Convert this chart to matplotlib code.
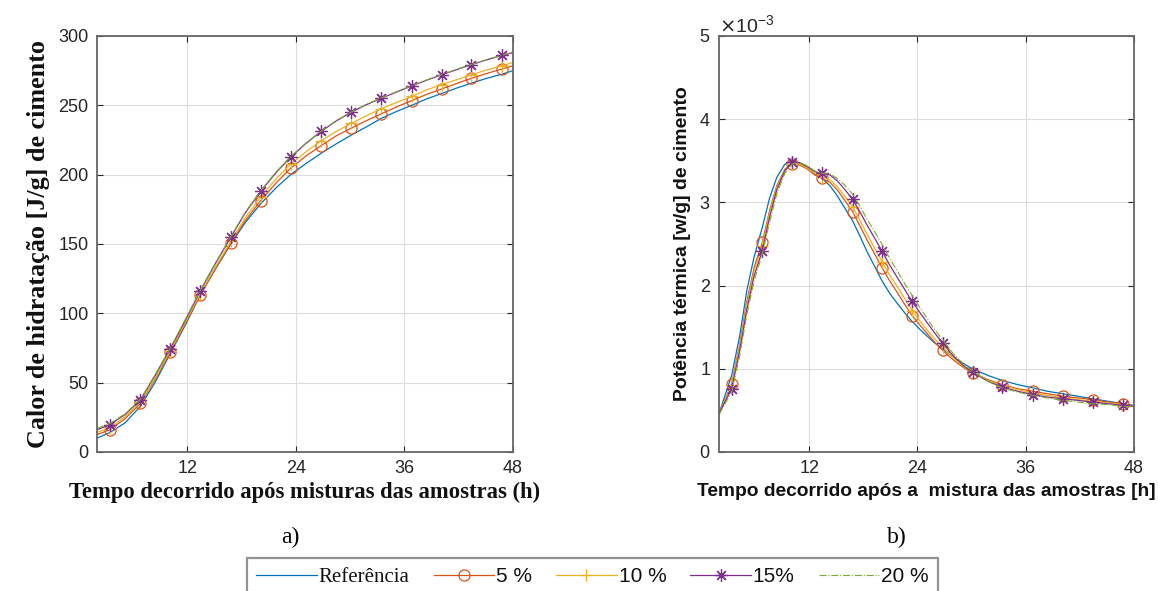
import matplotlib.pyplot as plt
import numpy as np
from matplotlib.ticker import ScalarFormatter

# tempo [h] e calor de hidratacao [J/g]
t_calor = [2, 3.4, 5.1, 6.8, 8.4, 10.1, 11.8, 13.4, 15.1, 16.8, 18.4, 20.1, 21.8, 23.4, 25.1,
           26.8, 28.4, 30.1, 31.8, 33.4, 35.1, 36.8, 38.4, 40.1, 41.8, 43.4, 45.1, 46.8, 48]
calor_ref = [10, 14, 21, 33, 50, 71, 92, 113, 132, 150, 165.5, 179, 190.5, 200, 208,
             215.5, 222, 228.5, 234.5, 240.5, 245.5, 250, 254.5, 258.5, 262.5, 266, 269.5, 272.5, 275]
calor_5 = [12.5, 16, 24, 35, 52, 72, 93, 113, 132.5, 150.6, 167, 181.3, 194, 204.6, 213.5,
           221, 227.8, 233.5, 239, 243.8, 248.8, 253.4, 257.8, 261.8, 265.8, 269.5, 273, 276.2, 278.5]
calor_10 = [14, 17.5, 25.5, 36, 53, 73, 94, 114, 133.5, 152, 169, 184, 197, 207.5, 216.5,
            224.5, 231, 237, 242.5, 247.5, 252, 256.5, 261, 265, 268.5, 272, 275.5, 278.5, 281]
calor_15 = [16, 19.7, 27, 37.7, 55, 74.5, 95.5, 116, 136, 155, 172.5, 188, 201.5, 212.6, 222.5,
            231.3, 238.5, 245, 250.5, 255, 259.5, 264, 268, 272, 275.8, 279.3, 282.8, 286, 288]
calor_20 = [17, 20.5, 27.5, 38, 55.5, 75, 96, 116.5, 136.5, 155.5, 173, 188.5, 202, 213, 222.8,
            231.5, 238.8, 245.2, 250.8, 255.3, 259.8, 264.2, 268.2, 272.2, 276, 279.5, 283, 286.2, 288.3]

# tempo [h] e potencia termica [mW/g]
t_pot = [2, 3.4, 4.3, 5.1, 5.9, 6.8, 7.6, 8.4, 9.3, 10.1, 10.9, 11.8, 12.6, 13.4, 14.3,
         15.1, 15.9, 16.8, 17.6, 18.4, 19.3, 20.1, 20.9, 21.8, 22.6, 23.4, 24.3, 25.1, 25.9,
         26.8, 27.6, 28.4, 29.3, 30.1, 31.8, 33.4, 35.1, 36.8, 38.4, 40.1, 41.8, 43.4, 45.1, 46.8, 48]
pot_ref = [0.46, 0.92, 1.40, 1.95, 2.35, 2.70, 3.05, 3.30, 3.46, 3.50, 3.47, 3.41, 3.34, 3.29, 3.20,
           3.08, 2.94, 2.78, 2.60, 2.41, 2.22, 2.05, 1.91, 1.78, 1.67, 1.57, 1.47, 1.39, 1.31,
           1.24, 1.17, 1.11, 1.05, 1.00, 0.92, 0.86, 0.81, 0.77, 0.73, 0.70, 0.67, 0.64, 0.61, 0.58, 0.56]
pot_5 = [0.46, 0.82, 1.30, 1.82, 2.22, 2.52, 2.90, 3.20, 3.40, 3.46, 3.45, 3.40, 3.33, 3.29, 3.24,
         3.15, 3.03, 2.89, 2.72, 2.55, 2.37, 2.21, 2.06, 1.91, 1.77, 1.64, 1.52, 1.42, 1.32,
         1.22, 1.14, 1.07, 1.00, 0.95, 0.87, 0.81, 0.76, 0.73, 0.70, 0.67, 0.65, 0.63, 0.60, 0.58, 0.55]
pot_10 = [0.46, 0.80, 1.27, 1.78, 2.18, 2.48, 2.87, 3.18, 3.39, 3.46, 3.46, 3.41, 3.35, 3.31, 3.27,
          3.19, 3.08, 2.95, 2.79, 2.62, 2.44, 2.28, 2.13, 1.98, 1.84, 1.70, 1.57, 1.46, 1.36,
          1.26, 1.17, 1.09, 1.01, 0.96, 0.86, 0.80, 0.75, 0.71, 0.68, 0.65, 0.63, 0.61, 0.59, 0.57, 0.55]
pot_15 = [0.46, 0.76, 1.22, 1.72, 2.12, 2.42, 2.82, 3.15, 3.38, 3.48, 3.48, 3.43, 3.37, 3.35, 3.33,
          3.26, 3.16, 3.04, 2.89, 2.73, 2.56, 2.41, 2.25, 2.09, 1.95, 1.81, 1.67, 1.55, 1.43,
          1.31, 1.20, 1.11, 1.02, 0.96, 0.85, 0.78, 0.73, 0.69, 0.66, 0.64, 0.62, 0.60, 0.58, 0.56, 0.55]
pot_20 = [0.45, 0.72, 1.16, 1.66, 2.06, 2.38, 2.76, 3.10, 3.35, 3.46, 3.48, 3.44, 3.38, 3.35, 3.34,
          3.29, 3.21, 3.10, 2.96, 2.80, 2.64, 2.49, 2.33, 2.17, 2.02, 1.88, 1.73, 1.60, 1.47,
          1.35, 1.23, 1.13, 1.04, 0.97, 0.85, 0.77, 0.72, 0.68, 0.65, 0.62, 0.60, 0.58, 0.57, 0.55, 0.54]

# horas onde vao os marcadores
h_marc = [3.4, 6.8, 10.1, 13.4, 16.8, 20.1, 23.4, 26.8, 30.1, 33.4, 36.8, 40.1, 43.4, 46.8]

nomes = ['Referência', '5 %', '10 %', '15%', '20 %']
cores = ['#0072BD', '#D95319', '#EDB120', '#7E2F8E', '#77AC30']
marcas = [None, 'o', '+', (8, 2, 0), None]  # (8, 2, 0) = asterisco de 8 bracos
tamanhos = [0, 8, 9, 9, 0]
estilos = ['-', '-', '-', '-', '-.']

tinta = '#262626'

fig = plt.figure(figsize=(11.58, 5.91), dpi=100)
ax1 = fig.add_axes([0.0838, 0.2352, 0.3592, 0.7039])
ax2 = fig.add_axes([0.6209, 0.2352, 0.3584, 0.7039])


def desenha(ax, t, series, escala=1.0):
    idx = [i for i, h in enumerate(t) if h in h_marc]
    linhas = []
    for k, y in enumerate(series):
        ln, = ax.plot(t, np.array(y) * escala, color=cores[k], ls=estilos[k],
                      lw=0.9 if k < 4 else 0.8, marker=marcas[k],
                      markevery=idx, ms=tamanhos[k], mfc='none', mew=0.9)
        linhas.append(ln)
    return linhas


def eixo(ax):
    ax.set_xlim(2, 48)
    ax.set_xticks([12, 24, 36, 48])
    ax.grid(True, color='#dcdcdc', lw=0.8)
    ax.set_axisbelow(True)
    ax.tick_params(direction='in', top=True, right=True, length=4, width=0.8,
                   colors=tinta, labelsize=13, pad=6)
    for s in ax.spines.values():
        s.set_color('#666666')
        s.set_linewidth(1.3)
    for lb in ax.get_xticklabels() + ax.get_yticklabels():
        lb.set_fontfamily('Liberation Sans')


linhas = desenha(ax1, t_calor, [calor_ref, calor_5, calor_10, calor_15, calor_20])
ax1.set_ylim(0, 300)
ax1.set_yticks(range(0, 301, 50))
eixo(ax1)
ax1.set_ylabel('Calor de hidratação [J/g] de cimento', fontfamily='Liberation Serif',
               fontweight='bold', fontsize=18.8, color='#111111', labelpad=6)
ax1.set_xlabel('Tempo decorrido após misturas das amostras (h)', fontfamily='Liberation Serif',
               fontweight='bold', fontsize=16.3, color='#111111', labelpad=3)

desenha(ax2, t_pot, [pot_ref, pot_5, pot_10, pot_15, pot_20], escala=1e-3)
ax2.set_ylim(0, 5e-3)
ax2.set_yticks(np.arange(0, 6) * 1e-3)
fmt = ScalarFormatter(useMathText=True)
fmt.set_powerlimits((-3, -3))
ax2.yaxis.set_major_formatter(fmt)
eixo(ax2)
ax2.yaxis.get_offset_text().set_fontsize(14)
ax2.yaxis.get_offset_text().set_fontfamily('Liberation Sans')
ax2.yaxis.get_offset_text().set_color(tinta)
ax2.set_ylabel('Potência térmica [w/g] de cimento', fontfamily='Liberation Sans',
               fontweight='bold', fontsize=14, color='#111111', labelpad=6)
ax2.set_xlabel('Tempo decorrido após a  mistura das amostras [h]', fontfamily='Liberation Sans',
               fontweight='bold', fontsize=13.8, color='#111111', labelpad=4)

fig.text(0.2505, 0.091, 'a)', fontfamily='Liberation Serif', fontsize=17, ha='center', va='center')
fig.text(0.7745, 0.091, 'b)', fontfamily='Liberation Serif', fontsize=17, ha='center', va='center')

leg = fig.legend(linhas, nomes, loc='upper center', bbox_to_anchor=(0.5117, 0.0558), ncol=5,
                 fontsize=15, frameon=True, fancybox=False, handlelength=2.9, handletextpad=0.1,
                 columnspacing=1.15, borderpad=0.45, borderaxespad=0)
leg.get_frame().set_edgecolor('#777777')
leg.get_frame().set_linewidth(1.6)
for k, tx in enumerate(leg.get_texts()):
    tx.set_fontfamily('Liberation Serif' if k == 0 else 'Liberation Sans')
    tx.set_color('#111111')

plt.savefig('out.png', dpi=100)
